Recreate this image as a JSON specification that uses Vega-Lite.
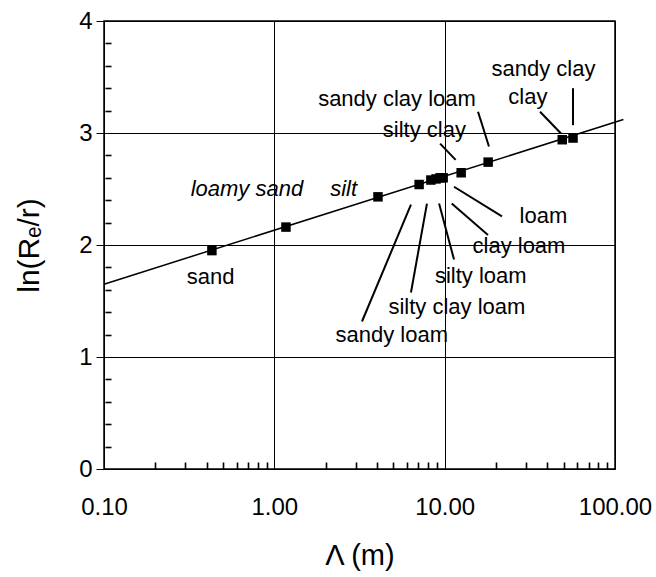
{
  "$schema": "https://vega.github.io/schema/vega-lite/v6.json",
  "width": 511,
  "height": 448,
  "autosize": {"type": "none"},
  "padding": {"left": 104, "top": 21, "right": 41, "bottom": 108},
  "background": "white",
  "config": {
    "font": "Liberation Sans",
    "view": {"stroke": "black", "strokeWidth": 1.5},
    "axis": {"labelFont": "Liberation Sans", "titleFont": "Liberation Sans", "labelColor": "black", "titleColor": "black", "titleFontWeight": "normal"}
  },
  "datasets": {
    "points": [
      {"soil": "sand", "lambda": 0.43, "lnr": 1.95},
      {"soil": "loamy sand", "lambda": 1.17, "lnr": 2.16},
      {"soil": "silt", "lambda": 4.06, "lnr": 2.43},
      {"soil": "sandy loam", "lambda": 7.08, "lnr": 2.54},
      {"soil": "silty clay loam", "lambda": 8.3, "lnr": 2.58},
      {"soil": "silty loam", "lambda": 8.9, "lnr": 2.59},
      {"soil": "clay loam", "lambda": 9.4, "lnr": 2.6},
      {"soil": "loam", "lambda": 9.8, "lnr": 2.6},
      {"soil": "silty clay", "lambda": 12.5, "lnr": 2.645},
      {"soil": "sandy clay loam", "lambda": 18.0, "lnr": 2.74},
      {"soil": "clay", "lambda": 49, "lnr": 2.94},
      {"soil": "sandy clay", "lambda": 56.7, "lnr": 2.955}
    ],
    "fit": [
      {"lambda": 0.1, "lnr": 1.65},
      {"lambda": 112, "lnr": 3.12}
    ],
    "leaders": [
      {"soil": "sandy clay", "x1": 56.7, "y1": 3.4, "x2": 56.7, "y2": 3.07},
      {"soil": "clay", "x1": 36.3, "y1": 3.19, "x2": 48.2, "y2": 2.995},
      {"soil": "sandy clay loam", "x1": 15.7, "y1": 3.19, "x2": 18.2, "y2": 2.88},
      {"soil": "silty clay", "x1": 9.4, "y1": 2.905, "x2": 11.6, "y2": 2.76},
      {"soil": "loam", "x1": 11.35, "y1": 2.52, "x2": 21.7, "y2": 2.255},
      {"soil": "clay loam", "x1": 11.0, "y1": 2.37, "x2": 17.96, "y2": 2.09},
      {"soil": "silty loam", "x1": 9.27, "y1": 2.37, "x2": 11.35, "y2": 1.87},
      {"soil": "silty clay loam", "x1": 7.87, "y1": 2.37, "x2": 6.34, "y2": 1.576},
      {"soil": "sandy loam", "x1": 6.34, "y1": 2.36, "x2": 3.27, "y2": 1.317}
    ],
    "labels": [
      {"text": "sandy clay", "lx": 38.0, "ly": 3.57, "style": "normal"},
      {"text": "clay", "lx": 30.8, "ly": 3.32, "style": "normal"},
      {"text": "sandy clay loam", "lx": 5.25, "ly": 3.3, "style": "normal"},
      {"text": "silty clay", "lx": 7.6, "ly": 3.03, "style": "normal"},
      {"text": "loamy sand", "lx": 0.69, "ly": 2.5, "style": "italic"},
      {"text": "silt", "lx": 2.55, "ly": 2.5, "style": "italic"},
      {"text": "sand", "lx": 0.423, "ly": 1.71, "style": "normal"},
      {"text": "loam", "lx": 38.0, "ly": 2.255, "style": "normal"},
      {"text": "clay loam", "lx": 27.3, "ly": 1.99, "style": "normal"},
      {"text": "silty loam", "lx": 16.3, "ly": 1.72, "style": "normal"},
      {"text": "silty clay loam", "lx": 11.8, "ly": 1.45, "style": "normal"},
      {"text": "sandy loam", "lx": 4.89, "ly": 1.2, "style": "normal"}
    ]
  },
  "resolve": {"scale": {"x": "independent", "y": "independent"}, "axis": {"x": "independent", "y": "independent"}},
  "layer": [
    {
      "data": {"name": "fit"},
      "mark": {"type": "line", "color": "black", "strokeWidth": 1.5, "clip": false},
      "encoding": {
        "x": {"field": "lambda", "type": "quantitative", "scale": {"type": "log", "domain": [0.1, 100], "nice": false},
          "axis": {
            "orient": "bottom",
            "values": [0.1, 1, 10, 100],
            "format": ".2f",
            "grid": true, "gridColor": "black", "gridWidth": 1,
            "ticks": false,
            "domain": false, "labelFontSize": 24, "labelPadding": 26, "labelFlush": false, "labelOverlap": false,
            "title": "Λ (m)", "titleFontSize": 29, "titlePadding": 22}},
        "y": {"field": "lnr", "type": "quantitative", "scale": {"domain": [0, 4], "nice": false},
          "axis": {
            "orient": "left",
            "values": [0, 1, 2, 3, 4],
            "format": ".0f",
            "grid": true, "gridColor": "black", "gridWidth": 1,
            "ticks": true, "tickColor": "black", "tickWidth": 1, "tickSize": 8,
            "domain": false, "labelFontSize": 24, "labelPadding": 4, "labelOverlap": false,
            "title": "ln(Rₑ/r)", "titleFontSize": 30, "titlePadding": 34}}
      }
    },
    {
      "data": {"name": "leaders"},
      "mark": {"type": "rule", "color": "black", "strokeWidth": 2},
      "encoding": {
        "x": {"field": "x1", "type": "quantitative", "scale": {"type": "log", "domain": [0.1, 100], "nice": false},
          "axis": {"orient": "bottom", "offset": -7, "values": [0.2, 0.3, 0.4, 0.5, 0.6, 0.7, 0.8, 0.9, 2, 3, 4, 5, 6, 7, 8, 9, 20, 30, 40, 50, 60, 70, 80, 90], "tickCount": 200, "labels": false, "grid": false, "domain": false, "ticks": true, "tickSize": 7, "tickColor": "black", "tickOpacity": 1, "tickWidth": 1.6, "title": null}},
        "y": {"field": "y1", "type": "quantitative", "scale": {"domain": [0, 4], "nice": false},
          "axis": {"orient": "left", "offset": -7, "values": [0.2, 0.4, 0.6, 0.8, 1.2, 1.4, 1.6, 1.8, 2.2, 2.4, 2.6, 2.8, 3.2, 3.4, 3.6, 3.8], "tickCount": 200, "labels": false, "grid": false, "domain": false, "ticks": true, "tickSize": 6, "tickColor": "black", "tickOpacity": 1, "tickWidth": 1.6, "title": null}},
        "x2": {"field": "x2"},
        "y2": {"field": "y2"}
      }
    },
    {
      "data": {"name": "points"},
      "mark": {"type": "square", "color": "black", "filled": true, "opacity": 1, "size": 90},
      "encoding": {
        "x": {"field": "lambda", "type": "quantitative", "scale": {"type": "log", "domain": [0.1, 100], "nice": false}, "axis": null},
        "y": {"field": "lnr", "type": "quantitative", "scale": {"domain": [0, 4], "nice": false}, "axis": null}
      }
    },
    {
      "data": {"name": "labels"},
      "transform": [{"filter": "datum.style == 'normal'"}],
      "mark": {"type": "text", "font": "Liberation Sans", "fontSize": 22, "color": "black", "align": "center", "baseline": "middle"},
      "encoding": {
        "x": {"field": "lx", "type": "quantitative", "scale": {"type": "log", "domain": [0.1, 100], "nice": false}, "axis": null},
        "y": {"field": "ly", "type": "quantitative", "scale": {"domain": [0, 4], "nice": false}, "axis": null},
        "text": {"field": "text"}
      }
    },
    {
      "data": {"name": "labels"},
      "transform": [{"filter": "datum.style == 'italic'"}],
      "mark": {"type": "text", "font": "Liberation Sans", "fontSize": 22, "fontStyle": "italic", "color": "black", "align": "center", "baseline": "middle"},
      "encoding": {
        "x": {"field": "lx", "type": "quantitative", "scale": {"type": "log", "domain": [0.1, 100], "nice": false}, "axis": null},
        "y": {"field": "ly", "type": "quantitative", "scale": {"domain": [0, 4], "nice": false}, "axis": null},
        "text": {"field": "text"}
      }
    }
  ]
}
